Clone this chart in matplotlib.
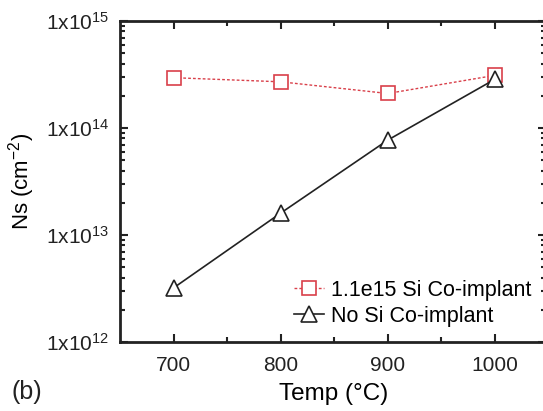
import matplotlib.pyplot as plt
from matplotlib.ticker import FixedLocator, LogLocator, NullFormatter

plt.rcParams['font.family'] = ['Liberation Sans', 'DejaVu Sans']
plt.rcParams['mathtext.fontset'] = 'custom'
plt.rcParams['mathtext.rm'] = 'Liberation Sans'
plt.rcParams['mathtext.it'] = 'Liberation Sans'
plt.rcParams['axes.unicode_minus'] = False

temps = [700, 800, 900, 1000]
ns_si = [2.95e14, 2.7e14, 2.1e14, 3.1e14]
ns_nosi = [3.2e12, 1.6e13, 7.7e13, 2.85e14]
x_ticks = [700, 800, 900, 1000]
y_ticks = [1e12, 1e13, 1e14, 1e15]
y_labels = ['1x10$^{12}$', '1x10$^{13}$', '1x10$^{14}$', '1x10$^{15}$']

fig = plt.figure(figsize=(5.43, 4.11), dpi=100)
ax = fig.add_axes([0.221, 0.168, 0.785, 0.781])

ax.plot(temps, ns_si, color='#d9404a', linestyle=(0, (2, 1.5)), linewidth=1,
        marker='s', markersize=10, markerfacecolor='white', markeredgewidth=1.2,
        label='1.1e15 Si Co-implant')
ax.plot(temps, ns_nosi, color='#222222', linestyle='-', linewidth=1.2,
        marker='^', markersize=12, markerfacecolor='white', markeredgewidth=1.2,
        label='No Si Co-implant')

ax.set_yscale('log')
ax.set_xlim(650, 1048)
ax.set_ylim(1e12, 1e15)
ax.xaxis.set_major_locator(FixedLocator(x_ticks))
ax.xaxis.set_minor_locator(FixedLocator([750, 850, 950]))
ax.set_yticks(y_ticks)
ax.set_yticklabels(y_labels)
ax.yaxis.set_minor_locator(LogLocator(base=10, subs=range(2, 10)))
ax.yaxis.set_minor_formatter(NullFormatter())
ax.tick_params(which='both', direction='in', top=True, right=True, width=1.5,
               labelsize=15, colors='#222222')
ax.tick_params(which='major', length=6)
ax.tick_params(which='minor', length=3.5)
ax.tick_params(axis='x', pad=10)
ax.tick_params(axis='y', pad=8)
for s in ax.spines.values():
    s.set_linewidth(2)
    s.set_color('#222222')

ax.set_xlabel('Temp (°C)', fontsize=17.5, labelpad=6)
ax.set_ylabel('Ns (cm$^{-2}$)', fontsize=16, labelpad=6)

ax.legend(loc='lower right', bbox_to_anchor=(0.985, 0.02), frameon=False,
          fontsize=15.5, handlelength=1.4, handletextpad=0.3, labelspacing=0.25,
          borderaxespad=0)

fig.text(0.022, 0.03, '(b)', fontsize=18, color='#222222')

plt.savefig('out.png', dpi=100)
